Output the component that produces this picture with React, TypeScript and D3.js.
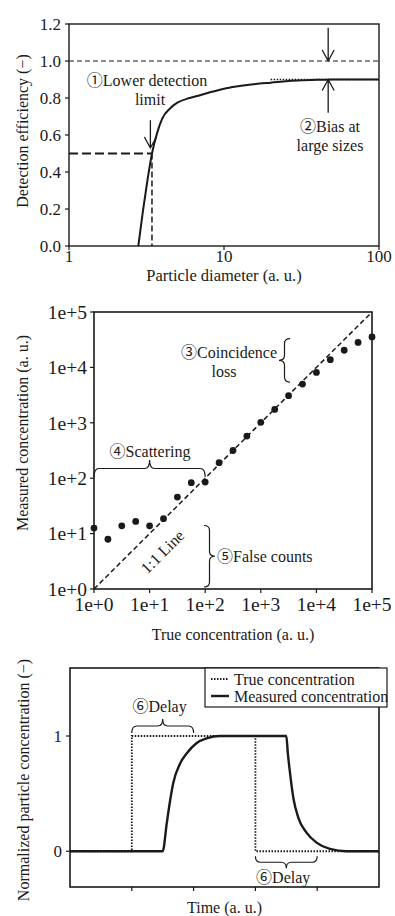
import React from 'react';
import * as d3 from 'd3';

// ---------- Panel 1: detection efficiency ----------
const effDiameter = [2.8, 3.0, 3.2, 3.43, 3.7, 4.0, 4.5, 5.0, 6.0, 7.0, 8.5, 10, 12, 15, 20, 25, 30, 40, 50, 70, 100];
const effValue = [0, 0.19, 0.35, 0.5, 0.61, 0.69, 0.745, 0.775, 0.8, 0.815, 0.835, 0.85, 0.862, 0.873, 0.883, 0.89, 0.894, 0.898, 0.9, 0.9, 0.9];
const effTicksY = [0, 0.2, 0.4, 0.6, 0.8, 1.0, 1.2];
const effTicksX = [1, 10, 100];
const effPlateau = 0.9;
const effIdeal = 1.0;
const effHalf = 0.5;
const effD50 = 3.43;

// ---------- Panel 2: concentration ----------
const trueConc = [1, 1.78, 3.16, 5.62, 10, 17.8, 31.6, 56.2, 100, 178, 316, 562, 1000, 1780, 3160, 5620, 10000, 17800, 31600, 56200, 100000];
const measuredConc = [12.6, 7.9, 13.8, 16.6, 13.8, 18.6, 45.7, 83.2, 85.1, 191, 316, 575, 1020, 1740, 3090, 5010, 8130, 13800, 20400, 28200, 35500];
const concTicks = [1, 10, 100, 1000, 10000, 100000];
const concTickLabels = ['1e+0', '1e+1', '1e+2', '1e+3', '1e+4', '1e+5'];

// ---------- Panel 3: time response ----------
const trueTime = [0, 2, 2, 6, 6, 10];
const trueValue = [0, 0, 1, 1, 0, 0];
const measTime = [0, 3.0, 3.13, 3.24, 3.34, 3.56, 3.78, 4.1, 4.42, 4.85, 5.5, 7.0, 7.05, 7.12, 7.23, 7.39, 7.66, 7.98, 8.41, 8.95, 10];
const measValue = [0, 0, 0.24, 0.44, 0.59, 0.76, 0.85, 0.94, 0.98, 1, 1, 1, 0.85, 0.68, 0.46, 0.29, 0.16, 0.075, 0.02, 0, 0];
const timeTicksX = [2, 4, 6, 8];
const normTicksY = [0, 1];
const legendLabels = ['True concentration', 'Measured concentration'];

const FONT = '"Liberation Serif", "Times New Roman", "Noto Sans CJK JP", serif';
const INK = '#1a1a1a';

function hBrace(x1: number, x2: number, y0: number, dir: number, h: number, xm?: number) {
  const m = xm ?? (x1 + x2) / 2;
  const ym = y0 + dir * h * 0.5;
  const yt = y0 + dir * h;
  const q = 5;
  return `M${x1},${y0} Q${x1},${ym} ${x1 + q},${ym} L${m - q},${ym} Q${m},${ym} ${m},${yt} Q${m},${ym} ${m + q},${ym} L${x2 - q},${ym} Q${x2},${ym} ${x2},${y0}`;
}
function vBrace(y1: number, y2: number, x0: number, dir: number, h: number, ymid?: number) {
  const m = ymid ?? (y1 + y2) / 2;
  const xm = x0 + dir * h * 0.5;
  const xt = x0 + dir * h;
  const q = 5;
  return `M${x0},${y1} Q${xm},${y1} ${xm},${y1 + q} L${xm},${m - q} Q${xm},${m} ${xt},${m} Q${xm},${m} ${xm},${m + q} L${xm},${y2 - q} Q${xm},${y2} ${x0},${y2}`;
}
function arrow(x: number, yFrom: number, yTo: number) {
  const dir = yTo > yFrom ? 1 : -1;
  return `M${x},${yFrom} L${x},${yTo} M${x - 6},${yTo - dir * 11} L${x},${yTo} L${x + 6},${yTo - dir * 11}`;
}

function Panel1() {
  const L = 69, R = 379, T = 24, B = 246;
  const x = d3.scaleLog().domain([1, 100]).range([L, R]);
  const y = d3.scaleLinear().domain([0, 1.2]).range([B, T]);
  const line = d3.line<number>().x((_, i) => x(effDiameter[i])).y((d) => y(d)).curve(d3.curveMonotoneX);
  const xa = 47;
  return (
    <g fontFamily={FONT} fill={INK}>
      <rect x={L} y={T} width={R - L} height={B - T} fill="none" stroke={INK} strokeWidth={1.4} />
      {effTicksY.map((t) => (
        <g key={t}>
          <line x1={L - 4} x2={L} y1={y(t)} y2={y(t)} stroke={INK} strokeWidth={1.2} />
          <text x={L - 8} y={y(t)} dy="0.35em" textAnchor="end" fontSize={17}>{t.toFixed(1)}</text>
        </g>
      ))}
      {effTicksX.map((t) => (
        <g key={t}>
          <line x1={x(t)} x2={x(t)} y1={B} y2={B + 4} stroke={INK} strokeWidth={1.2} />
          <text x={x(t)} y={B + 16} textAnchor="middle" fontSize={17}>{t}</text>
        </g>
      ))}
      <text x={(L + R) / 2} y={281} textAnchor="middle" fontSize={16.5}>Particle diameter (a. u.)</text>
      <text transform={`translate(22,131) rotate(-90)`} textAnchor="middle" dy="0.35em" fontSize={16}>Detection efficiency (−)</text>
      {/* ideal line */}
      <line x1={L} x2={R} y1={y(effIdeal)} y2={y(effIdeal)} stroke={INK} strokeWidth={1} strokeDasharray="5,3" />
      {/* plateau dotted */}
      <line x1={x(20)} x2={R} y1={y(effPlateau)} y2={y(effPlateau)} stroke={INK} strokeWidth={1.6} strokeDasharray="1.5,1.5" />
      {/* d50 markers */}
      <line x1={L} x2={x(effD50)} y1={y(effHalf)} y2={y(effHalf)} stroke={INK} strokeWidth={2} strokeDasharray="9,4" />
      <line x1={x(effD50)} x2={x(effD50)} y1={y(effHalf)} y2={B} stroke={INK} strokeWidth={1.5} strokeDasharray="6,3" />
      <path d={line(effValue) || ''} fill="none" stroke={INK} strokeWidth={2} />
      {/* annotations */}
      <path d={arrow(x(3.35), y(0.68), y(0.53))} fill="none" stroke={INK} strokeWidth={1.3} />
      <text x={147} y={86} textAnchor="middle" fontSize={16}>①Lower detection</text>
      <text x={150} y={105} textAnchor="middle" fontSize={16}>limit</text>
      <path d={arrow(x(xa), y(1.18), y(1.0))} fill="none" stroke={INK} strokeWidth={1.3} />
      <path d={arrow(x(xa), y(0.72), y(0.9))} fill="none" stroke={INK} strokeWidth={1.3} />
      <text x={330} y={132} textAnchor="middle" fontSize={16}>②Bias at</text>
      <text x={330} y={151} textAnchor="middle" fontSize={16}>large sizes</text>
    </g>
  );
}

function Panel2() {
  const L = 94, R = 372, T = 312, B = 589;
  const x = d3.scaleLog().domain([1, 1e5]).range([L, R]);
  const y = d3.scaleLog().domain([1, 1e5]).range([B, T]);
  return (
    <g fontFamily={FONT} fill={INK}>
      <rect x={L} y={T} width={R - L} height={B - T} fill="none" stroke={INK} strokeWidth={1.6} />
      {concTicks.map((t, i) => (
        <g key={t}>
          <line x1={L - 4} x2={L} y1={y(t)} y2={y(t)} stroke={INK} strokeWidth={1.2} />
          <text x={L - 7} y={y(t)} dy="0.35em" textAnchor="end" fontSize={19.5}>{concTickLabels[i]}</text>
          <line x1={x(t)} x2={x(t)} y1={B} y2={B + 4} stroke={INK} strokeWidth={1.2} />
          <text x={x(t)} y={B + 22} textAnchor="middle" fontSize={19.5}>{concTickLabels[i]}</text>
        </g>
      ))}
      <text x={(L + R) / 2} y={640} textAnchor="middle" fontSize={16}>True concentration (a. u.)</text>
      <text transform={`translate(22,433) rotate(-90)`} textAnchor="middle" dy="0.35em" fontSize={16}>Measured concentration (a. u.)</text>
      <line x1={x(1)} y1={y(1)} x2={x(1e5)} y2={y(1e5)} stroke={INK} strokeWidth={1.5} strokeDasharray="5,3" />
      {trueConc.map((c, i) => (
        <circle key={i} cx={x(c)} cy={y(measuredConc[i])} r={3.4} fill={INK} />
      ))}
      <text transform={`translate(${x(20)},${y(4)}) rotate(-45)`} textAnchor="middle" fontSize={16}>1:1 Line</text>
      {/* coincidence */}
      <path d={vBrace(y(7e4) + 18, y(5000) - 2, 290, -1, 11)} fill="none" stroke={INK} strokeWidth={1.2} />
      <text x={277} y={358} textAnchor="end" fontSize={16}>③Coincidence</text>
      <text x={224} y={377} textAnchor="middle" fontSize={16}>loss</text>
      {/* scattering */}
      <path d={hBrace(x(1), x(100), 477, -1, 17, x(10))} fill="none" stroke={INK} strokeWidth={1.2} />
      <text x={150} y={457} textAnchor="middle" fontSize={16}>④Scattering</text>
      {/* false counts */}
      <path d={vBrace(y(14), B - 2, 204, 1, 11)} fill="none" stroke={INK} strokeWidth={1.2} />
      <text x={217} y={562} fontSize={16}>⑤False counts</text>
    </g>
  );
}

function Panel3() {
  const L = 70, R = 379, T = 668, B = 887;
  const x = d3.scaleLinear().domain([0, 10]).range([L, R]);
  const y = d3.scaleLinear().domain([-0.31, 1.59]).range([B, T]);
  const trueLine = d3.line<number>().x((_, i) => x(trueTime[i])).y((d) => y(d));
  const measLine = d3.line<number>().x((_, i) => x(measTime[i])).y((d) => y(d)).curve(d3.curveMonotoneX);
  const lgL = 205, lgR = 387, lgT = T, lgB = 707;
  return (
    <g fontFamily={FONT} fill={INK}>
      <rect x={L} y={T} width={R - L} height={B - T} fill="none" stroke={INK} strokeWidth={1.6} />
      {normTicksY.map((t) => (
        <g key={t}>
          <line x1={L - 4} x2={L} y1={y(t)} y2={y(t)} stroke={INK} strokeWidth={1.2} />
          <text x={L - 8} y={y(t)} dy="0.35em" textAnchor="end" fontSize={17}>{t}</text>
        </g>
      ))}
      {timeTicksX.map((t) => (
        <line key={t} x1={x(t)} x2={x(t)} y1={B} y2={B + 4} stroke={INK} strokeWidth={1.2} />
      ))}
      <text x={(L + R) / 2} y={913} textAnchor="middle" fontSize={16}>Time (a. u.)</text>
      <text transform={`translate(23,780) rotate(-90)`} textAnchor="middle" dy="0.35em" fontSize={16}>Normalized particle concentration (−)</text>
      <path d={trueLine(trueValue) || ''} fill="none" stroke={INK} strokeWidth={1.8} strokeDasharray="1.5,1.5" />
      <path d={measLine(measValue) || ''} fill="none" stroke={INK} strokeWidth={2.4} />
      {/* delay braces */}
      <path d={hBrace(x(2), x(4), y(1) - 3, -1, 14, x(3))} fill="none" stroke={INK} strokeWidth={1.2} />
      <text x={x(2.9)} y={712} textAnchor="middle" fontSize={16}>⑥Delay</text>
      <path d={hBrace(x(6), x(8), y(0) + 5, 1, 12, x(7))} fill="none" stroke={INK} strokeWidth={1.2} />
      <text x={x(6.9)} y={883} textAnchor="middle" fontSize={16}>⑥Delay</text>
      {/* legend */}
      <rect x={lgL} y={lgT} width={lgR - lgL} height={lgB - lgT} fill="#fff" stroke={INK} strokeWidth={1.2} />
      <line x1={lgL + 6} x2={lgL + 24} y1={679} y2={679} stroke={INK} strokeWidth={1.8} strokeDasharray="1.5,1.5" />
      <text x={lgL + 29} y={679} dy="0.35em" fontSize={16}>{legendLabels[0]}</text>
      <line x1={lgL + 6} x2={lgL + 24} y1={696} y2={696} stroke={INK} strokeWidth={2.4} />
      <text x={lgL + 29} y={696} dy="0.35em" fontSize={16}>{legendLabels[1]}</text>
    </g>
  );
}

export default function App() {
  return (
    <svg width={395} height={916} viewBox="0 0 395 916" style={{ position: 'absolute', left: 0, top: 0, background: '#fff' }}>
      <rect width={395} height={916} fill="#fff" />
      <Panel1 />
      <Panel2 />
      <Panel3 />
    </svg>
  );
}
